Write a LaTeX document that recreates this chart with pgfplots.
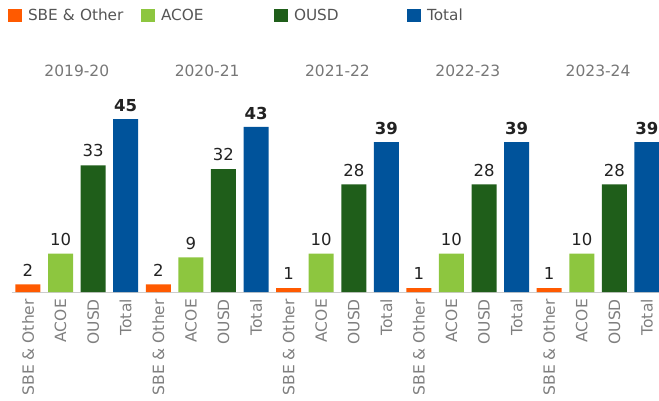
\documentclass[border=0pt]{standalone}
\usepackage{pgfplots}
\pgfplotsset{compat=1.18}
\usepackage{fontspec}
\setmainfont{DejaVu Sans}
\definecolor{csbe}{HTML}{FF5A00}
\definecolor{cacoe}{HTML}{8DC63F}
\definecolor{cousd}{HTML}{1F5E1A}
\definecolor{ctotal}{HTML}{00539B}
\definecolor{axisgray}{HTML}{CCCCCC}
\definecolor{tickgray}{HTML}{7F7F7F}
\definecolor{hdrgray}{HTML}{777777}
\definecolor{leggray}{HTML}{555555}
\definecolor{lblcol}{HTML}{222222}
\begin{document}
\begin{tikzpicture}[x=1pt,y=1pt]
\useasboundingbox (0,0) rectangle (659,400);
\begin{axis}[
  at={(11.7pt,108pt)}, anchor=south west,
  scale only axis, width=647.3pt, height=192pt,
  xmin=-0.5, xmax=19.37, ymin=0, ymax=50,
  clip=false,
  /pgf/number format/assume math mode=true,
  ybar, bar width=25pt, bar shift=0pt,
  axis y line=none, axis x line*=bottom,
  axis line style={draw=axisgray, line width=1pt, -},
  xtick={0,...,19},
  xticklabels={SBE \& Other,ACOE,OUSD,Total,SBE \& Other,ACOE,OUSD,Total,SBE \& Other,ACOE,OUSD,Total,SBE \& Other,ACOE,OUSD,Total,SBE \& Other,ACOE,OUSD,Total},
  major tick length=0pt,
  xticklabel shift=7pt,
  xticklabel style={rotate=90, anchor=east, inner sep=0pt, font=\fontsize{15.5}{18}\selectfont, text=tickgray},
  nodes near coords={\pgfmathprintnumber[assume math mode=true]{\pgfplotspointmeta}}, point meta=y,
  nodes near coords style={anchor=south, inner sep=0pt, yshift=8pt, font=\fontsize{16.5}{19}\selectfont, text=lblcol},
  legend image code/.code={\fill[#1] (0pt,-6.5pt) rectangle (14pt,6.5pt);},
  legend columns=4,
  legend style={at={(axis description cs:-0.0057,1.4740)}, anchor=north west, draw=none, fill=none,
    inner sep=0pt, outer sep=0pt, font=\fontsize{15.3}{18}\selectfont, text=leggray,
    nodes={inner sep=0pt, text width=113pt, align=left},
    /tikz/every odd column/.append style={column sep=6pt}},
]
\addplot[fill=csbe, draw=none] coordinates {(0,2) (4,2) (8,1) (12,1) (16,1)};
\addlegendentry{SBE \& Other}
\addplot[fill=cacoe, draw=none] coordinates {(1,10) (5,9) (9,10) (13,10) (17,10)};
\addlegendentry{ACOE}
\addplot[fill=cousd, draw=none] coordinates {(2,33) (6,32) (10,28) (14,28) (18,28)};
\addlegendentry{OUSD}
\addplot[fill=ctotal, draw=none, nodes near coords style={font=\fontsize{16.5}{19}\bfseries\selectfont, text=lblcol, yshift=-1pt}] coordinates {(3,45) (7,43) (11,39) (15,39) (19,39)};
\addlegendentry{Total}
\node[anchor=base, font=\fontsize{15.5}{18}\selectfont, text=hdrgray] at (axis cs:1.5,56.25) {2019-20};
\node[anchor=base, font=\fontsize{15.5}{18}\selectfont, text=hdrgray] at (axis cs:5.5,56.25) {2020-21};
\node[anchor=base, font=\fontsize{15.5}{18}\selectfont, text=hdrgray] at (axis cs:9.5,56.25) {2021-22};
\node[anchor=base, font=\fontsize{15.5}{18}\selectfont, text=hdrgray] at (axis cs:13.5,56.25) {2022-23};
\node[anchor=base, font=\fontsize{15.5}{18}\selectfont, text=hdrgray] at (axis cs:17.5,56.25) {2023-24};
\end{axis}
\end{tikzpicture}
\end{document}
